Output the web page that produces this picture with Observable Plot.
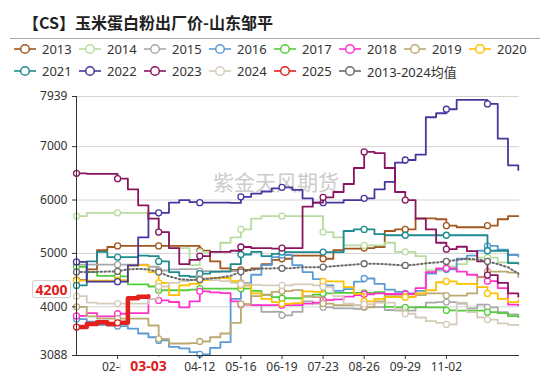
<!DOCTYPE html>
<html><head><meta charset="utf-8">
<script src="https://cdn.jsdelivr.net/npm/d3@7"></script>
<script src="https://cdn.jsdelivr.net/npm/@observablehq/plot@0.6"></script>
<style>
html,body{margin:0;padding:0;background:#fff;}
#wrap{position:relative;width:550px;height:381px;overflow:hidden;font-family:"Noto Sans","Noto Sans CJK SC",sans-serif;}
#chart{position:absolute;left:0;top:0;}
#title{position:absolute;left:23px;top:10px;font-weight:700;font-size:16px;font-family:"Noto Sans CJK SC",sans-serif;color:#222;white-space:nowrap;line-height:24px;}
#sep{position:absolute;left:10px;top:38px;width:530px;height:1px;background:#aaa;}
.li{position:absolute;height:16px;display:flex;align-items:center;white-space:nowrap;font-size:13px;color:#333;font-family:"Noto Sans","Noto Sans CJK SC",sans-serif;}
.li svg{margin-right:6px;flex:none;}
</style></head>
<body><div id="wrap"><div id="chart"></div><div id="title">【CS】玉米蛋白粉出厂价-山东邹平</div><div id="sep"></div><div id="legend"></div></div>
<script>
// ---------- data ----------
const seriesNames = ["2013","2014","2015","2016","2017","2018","2019","2020","2021","2022","2023","2024","2025","2013-2024均值"];
const seriesColors = ["#A0561E","#B8DBA0","#A9A9A9","#5B9BD5","#52CC3A","#FF33CC","#BBA872","#FFC000","#1E8A8F","#45379E","#8A1460","#D5CBBB","#E2211C","#6A6A6A"];
const dayStep = 6; // trading days between samples
const v2013 = [4500,4700,5060,5120,5140,5140,5140,5140,5140,5140,5140,5140,5050,4850,4720,4690,4690,4720,4800,4880,4900,4960,4960,4960,4900,5060,5090,5090,5100,5120,5420,5450,5450,5656,5656,5640,5520,5490,5490,5490,5520,5640,5700,5700];
const v2014 = [5700,5760,5760,5760,5760,5760,5760,5760,5400,5100,5100,4780,5030,5030,5200,5300,5450,5650,5700,5700,5700,5700,5700,5700,5400,5300,5150,5150,5150,5150,5200,5030,5030,4950,4680,4680,4750,4800,4880,4920,4920,4830,4830,4800];
const v2015 = [4790,4790,4790,4790,4790,4790,4790,4750,4680,4700,4706,4706,4670,4670,4670,4670,4450,4030,3906,3906,3840,3906,4100,4060,3990,3970,3970,3960,3990,3994,3940,3930,3930,4000,4080,4088,4088,4060,3970,4040,3990,3900,3860,3810];
const v2016 = [3770,3720,3660,3650,3640,3590,3500,3430,3370,3250,3220,3150,3110,3230,3340,4150,4400,4600,4780,4930,4970,4780,4650,4520,4400,4300,4330,4470,4530,4430,4320,4280,4250,4300,4620,4700,4700,4900,4960,5050,5140,5070,4970,4940];
const v2017 = [4750,4650,4580,4580,4570,4420,4420,4380,4310,4310,4310,4320,4340,4340,4340,4340,4340,4300,4230,4180,4160,4160,4190,4230,4250,4260,4260,4260,4260,4275,4000,3990,3990,3990,3990,3990,3935,3930,3930,3930,3900,3880,3825,3810];
const v2018 = [3830,3880,3820,3820,3870,3880,3880,4150,4120,4090,3990,4100,4290,4269,4255,4100,4040,4030,4030,4030,4030,4030,4060,4080,4125,4140,4190,4220,4235,4250,4240,4240,4240,4350,4650,4720,4720,4660,4600,4560,4480,4350,4040,4025];
const v2019 = [4000,3820,3780,3780,3780,3780,3780,3650,3400,3313,3313,3320,3350,3430,3500,3700,4050,4200,4220,4280,4294,4313,4200,4180,4060,4031,4031,4031,4000,4100,4200,4200,4190,4220,4250,4250,4210,4210,4250,4550,4660,4660,4640,4560];
const v2020 = [4490,4490,4490,4490,4500,4770,4780,4650,4450,4220,4400,4430,4500,4540,4540,4480,4400,4250,4150,4088,4056,4070,4288,4280,4475,4475,4370,4244,4100,4150,4180,4180,4180,4250,4310,4460,4475,4431,4431,4369,4250,4150,4088,4119];
const v2021 = [4400,4850,5030,4930,4930,4930,4960,4950,4850,4650,4580,4563,4620,4656,4660,4800,4980,5030,4950,4990,5025,5025,5025,5025,5025,5025,5420,5450,5450,5360,5340,5340,5340,5340,5340,5340,5340,5340,5340,5340,5050,5050,4820,4810];
const v2022 = [4840,4470,4470,4470,4470,4775,5300,5750,5760,5950,6000,5960,5950,5950,5950,5945,6060,6120,6160,6220,6238,6190,6030,5950,5950,5950,6000,6000,6031,6200,6340,6700,6750,6850,7550,7625,7700,7875,7875,7875,7800,7150,6650,6563];
const v2023 = [6500,6490,6490,6490,6400,6200,5900,5650,5400,5100,4800,4880,4950,5030,5030,5050,5120,5100,5100,5090,5100,5100,5875,5950,6050,6150,6300,6600,6900,6880,6600,6150,6000,5650,5450,5200,5080,5125,5044,4850,4594,4450,4250,4190];
const v2024 = [4200,4080,4060,4060,4060,4060,4060,4150,4380,4450,4480,4500,4530,4500,4480,4450,4420,4410,4400,4400,4400,4420,4420,4400,4375,4200,4060,4030,4050,4080,4080,3950,3870,3800,3730,3700,3670,4080,3900,3800,3760,3690,3660,3650];
const v2025 = [3620,3680,3710,3680,3700,4160,4190,4200];
const vAvg  = [4650,4650,4655,4660,4665,4700,4710,4700,4650,4570,4520,4500,4510,4530,4550,4580,4656,4690,4715,4720,4720,4725,4744,4740,4745,4760,4775,4790,4806,4806,4800,4785,4775,4790,4815,4830,4850,4880,4900,4890,4850,4800,4740,4620];
const seriesValues = [v2013,v2014,v2015,v2016,v2017,v2018,v2019,v2020,v2021,v2022,v2023,v2024,v2025,vAvg];

const yTicks = [3088,4000,5000,6000,7000,7939];
const gridTicks = [4000,5000,6000,7000,7939];
const xTickDays = [24,48,72,96,120,144,168,192,216];
const xTickLabels = ["02-03","03-09","04-12","05-16","06-19","07-23","08-26","09-29","11-02"];
const lastDate2025 = "03-03";
const watermark = "紫金天风期货";

// ---------- chart ----------
const rows = seriesValues.map((vals, s) => vals.map((v, i) => ({name: seriesNames[s], d: i * dayStep, v, i})));
const idx2025 = seriesNames.indexOf("2025");
const idxAvg = seriesNames.length - 1;
const last2025 = rows[idx2025][rows[idx2025].length - 1];

const marks = [
  Plot.gridY(gridTicks, {stroke: "#d4d4d4", strokeOpacity: 1}),
  Plot.text([watermark], {frameAnchor: "middle", dx: -22, dy: -43, fontSize: 21, fill: "#cccccc", fontFamily: "Noto Sans CJK SC"})
];
rows.forEach((data, s) => {
  const isAvg = s === idxAvg, is2025 = s === idx2025;
  marks.push(Plot.line(data, {
    x: "d", y: "v", stroke: seriesColors[s],
    strokeWidth: is2025 ? 4.5 : (isAvg ? 2 : 1.8),
    curve: isAvg ? "linear" : "step-after",
    strokeDasharray: isAvg ? "1.5,2.5" : null
  }));
  marks.push(Plot.dot(data.filter(r => r.i % 4 === 0), {x: "d", y: "v", r: 3, fill: "white", stroke: seriesColors[s], strokeWidth: 1.3}));
});
// tick labels that sit under the highlighted current-date label are hidden (as in the source chart)
const xTickText = d => (Math.abs(d - last2025.d) < 10 ? "" : xTickLabels[xTickDays.indexOf(d)]);
marks.push(
  Plot.axisY(yTicks, {tickSize: 4, tickPadding: 5, label: null, tickFormat: d => String(d)}),
  Plot.axisX(xTickDays, {tickSize: 4, tickPadding: 3, label: null, tickFormat: xTickText}),
  Plot.ruleX([0], {stroke: "#333"}),
  Plot.ruleY([3088], {stroke: "#333"}),
  Plot.text([last2025], {y: "v", frameAnchor: "left", dx: -9, dy: -6, textAnchor: "end", text: d => String(d.v), fill: "#E0201B", fontWeight: "bold", fontSize: 14}),
  Plot.text([last2025], {x: "d", frameAnchor: "bottom", dy: 15, text: () => lastDate2025, fill: "#E0201B", fontWeight: "bold", fontSize: 14})
);

const chart = Plot.plot({
  width: 550, height: 381,
  marginLeft: 76, marginRight: 31, marginTop: 96, marginBottom: 26,
  x: {type: "linear", domain: [0, 258.7], label: null},
  y: {type: "linear", domain: [3088, 7939], label: null},
  style: {fontFamily: "'Noto Sans','Noto Sans CJK SC',sans-serif", fontSize: "12px", color: "#333", background: "transparent", overflow: "visible"},
  marks
});
document.getElementById("chart").append(chart);

// white label boxes behind the highlighted value/date labels
function boxLabel(str, padX, padY, stroke) {
  d3.select(chart).selectAll("text").each(function() {
    if (this.textContent === str && this.parentNode.getAttribute("aria-label") === "text") {
      const bb = this.getBBox();
      const rect = document.createElementNS("http://www.w3.org/2000/svg", "rect");
      rect.setAttribute("x", bb.x - padX);
      rect.setAttribute("y", bb.y - padY);
      rect.setAttribute("width", bb.width + 2 * padX);
      rect.setAttribute("height", bb.height + 2 * padY);
      rect.setAttribute("fill", "white");
      rect.setAttribute("stroke", stroke);
      rect.setAttribute("rx", 2);
      const t = this.getAttribute("transform");
      if (t) rect.setAttribute("transform", t);
      this.parentNode.insertBefore(rect, this);
    }
  });
}
boxLabel(String(last2025.v), 3, -1, "#cfcfcf");
boxLabel(lastDate2025, 10, -1, "none");

// legend
const legend = document.getElementById("legend");
seriesNames.forEach((n, k) => {
  const row = k < 8 ? 0 : 1, col = k < 8 ? k : k - 8;
  const div = document.createElement("div");
  div.className = "li";
  div.style.left = (14 + 65 * col) + "px";
  div.style.top = (row === 0 ? 41 : 63) + "px";
  const c = seriesColors[k];
  div.innerHTML = `<svg width="22" height="12"><line x1="0" y1="6" x2="22" y2="6" stroke="${c}" stroke-width="1.6"/><circle cx="11" cy="6" r="4.3" fill="white" stroke="${c}" stroke-width="1.5"/></svg><span>${n}</span>`;
  legend.append(div);
});
</script></body></html>
